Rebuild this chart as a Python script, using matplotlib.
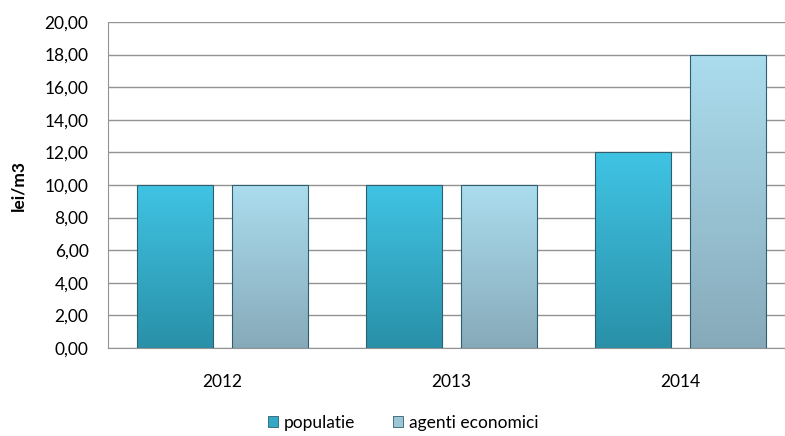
import numpy as np
import matplotlib
matplotlib.use('Agg')
from matplotlib import pyplot as plt
from matplotlib.colors import LinearSegmentedColormap
from matplotlib.patches import Patch
from matplotlib.ticker import FuncFormatter, MultipleLocator

plt.rcParams['font.family'] = ['Lato', 'DejaVu Sans']

years = ['2012', '2013', '2014']
populatie = [10.0, 10.0, 12.0]
agenti = [10.0, 10.0, 18.0]

# culori gradient (sus -> jos)
pop_top, pop_bot = '#40C4E4', '#2990A8'
ag_top, ag_bot = '#ABDDEE', '#87AABA'

fig = plt.figure(figsize=(7.85, 4.36), dpi=100)
ax = fig.add_axes([108 / 785, 88 / 436, 687 / 785, 326 / 436])

x = np.arange(len(years))
w = 0.332
off = 0.209


def gradient_bars(xs, vals, top, bot):
    cmap = LinearSegmentedColormap.from_list('g', [bot, top])
    grad = np.linspace(0, 1, 256).reshape(-1, 1)
    bars = ax.bar(xs, vals, width=w, color='none', edgecolor='#2f5f6e',
                  linewidth=0.8, zorder=3)
    for b in bars:
        x0, y0 = b.get_x(), b.get_y()
        im = ax.imshow(grad, cmap=cmap, aspect='auto', origin='lower',
                       extent=[x0, x0 + b.get_width(), y0, y0 + b.get_height()],
                       zorder=2)
        im.set_clip_path(b)
    return bars


gradient_bars(x - off, populatie, pop_top, pop_bot)
gradient_bars(x + off, agenti, ag_top, ag_bot)

ax.set_xlim(-0.5, 2.5)
ax.set_ylim(0, 20)
ax.yaxis.set_major_locator(MultipleLocator(2))
ax.yaxis.set_major_formatter(FuncFormatter(lambda v, p: f'{v:.2f}'.replace('.', ',')))
ax.set_xticks(x)
ax.set_xticklabels(years)
ax.tick_params(axis='both', length=0, labelsize=12.5, colors='#000000')
ax.tick_params(axis='y', pad=14)
ax.tick_params(axis='x', pad=19)
ax.grid(axis='y', color='#939393', linewidth=1, zorder=0)
ax.set_axisbelow(True)
for s in ['top', 'right']:
    ax.spines[s].set_visible(False)
ax.spines['left'].set_color('#939393')
ax.spines['bottom'].set_color('#939393')

fig.text(18 / 785, 1 - 185 / 436, 'lei/m3', rotation=90, fontsize=12.5,
         fontweight='bold', ha='center', va='center')

handles = [Patch(facecolor='#33A9C6', edgecolor='#2f5f6e', linewidth=0.6),
           Patch(facecolor='#9CC6D6', edgecolor='#2f5f6e', linewidth=0.6)]
fig.legend(handles, ['populatie', 'agenti economici'], loc='center',
           bbox_to_anchor=(403 / 785, 1 - 423 / 436), ncol=2, frameon=False,
           fontsize=12.5, handlelength=0.6, handleheight=0.6,
           handletextpad=0.3, columnspacing=2.2)

fig.savefig('out.png', dpi=100)
